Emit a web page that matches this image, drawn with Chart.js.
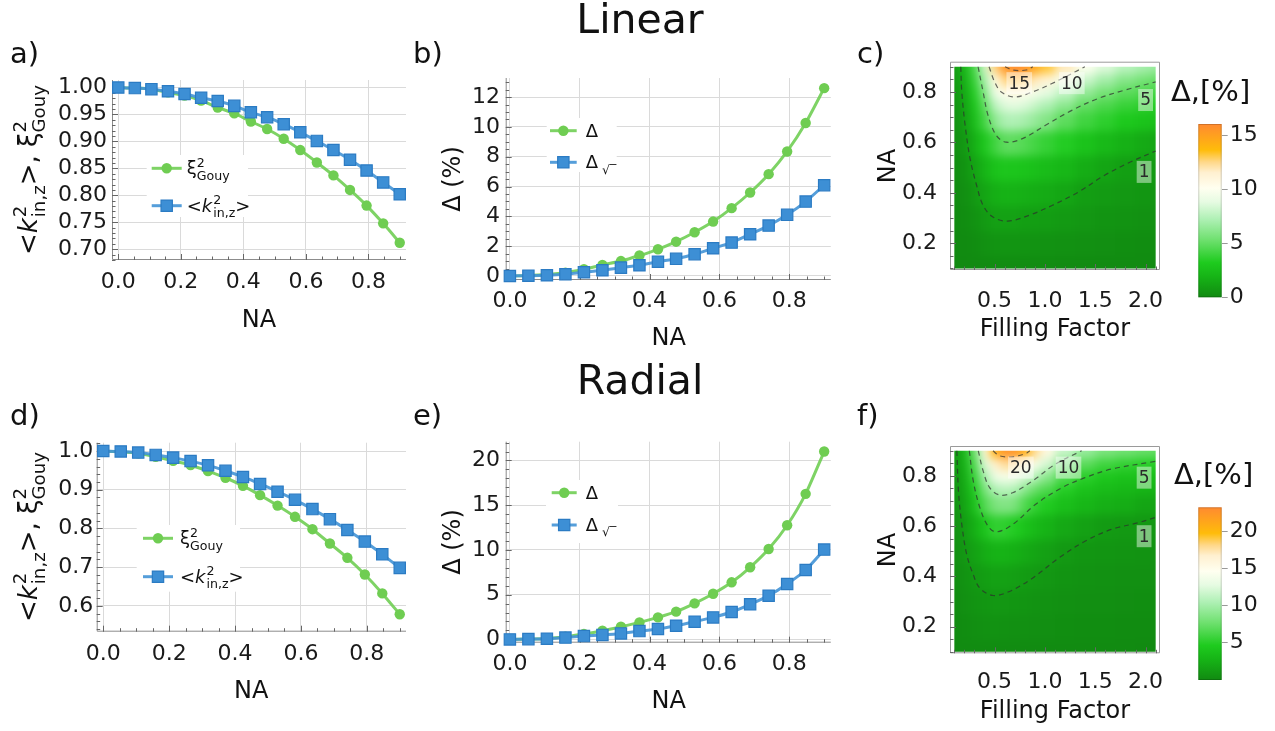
<!DOCTYPE html>
<html>
<head>
<meta charset="utf-8">
<title>Gouy factor and Δ vs NA</title>
<script src="https://cdn.jsdelivr.net/npm/chart.js@4.4.1/dist/chart.umd.min.js"></script>
<style>
  html, body { margin: 0; padding: 0; background: #fff; }
  body { position: relative; width: 1275px; height: 731px; overflow: hidden; }
  canvas { position: absolute; }
</style>
</head>
<body>
<canvas id="chartA" width="420" height="320" style="left:0px;top:30px"></canvas>
<canvas id="chartB" width="435" height="360" style="left:405px;top:0px"></canvas>
<canvas id="chartC" width="330" height="320" style="left:850px;top:30px"></canvas>
<canvas id="barC" width="110" height="260" style="left:1165px;top:60px"></canvas>
<canvas id="chartD" width="420" height="330" style="left:0px;top:390px"></canvas>
<canvas id="chartE" width="435" height="371" style="left:405px;top:360px"></canvas>
<canvas id="chartF" width="330" height="341" style="left:850px;top:390px"></canvas>
<canvas id="barF" width="110" height="280" style="left:1165px;top:440px"></canvas>
<script>
const FONT = "'DejaVu Sans', sans-serif";
const TICK_FONT = { family: FONT, size: 22 };
Chart.defaults.font.family = FONT;
Chart.defaults.font.size = 22;
Chart.defaults.color = "#1a1a1a";

// ---- line panels: values vs NA ----
const naVals = [0, 0.053, 0.106, 0.159, 0.212, 0.265, 0.318, 0.371, 0.424, 0.476, 0.529, 0.582, 0.635, 0.688, 0.741, 0.794, 0.847, 0.9];

// linear polarisation
const gouyLin = [1.0, 0.999, 0.997, 0.991, 0.985, 0.976, 0.963, 0.952, 0.937, 0.923, 0.905, 0.884, 0.861, 0.837, 0.810, 0.781, 0.748, 0.712];
const kzLin = [1.0, 0.999, 0.997, 0.993, 0.988, 0.981, 0.975, 0.966, 0.954, 0.945, 0.932, 0.917, 0.901, 0.884, 0.866, 0.846, 0.824, 0.802];
const deltaLin = [0, 0.03, 0.1, 0.22, 0.45, 0.74, 1.0, 1.37, 1.79, 2.3, 2.93, 3.65, 4.55, 5.6, 6.83, 8.35, 10.26, 12.6];
const deltaSqrtLin = [0, 0.02, 0.05, 0.12, 0.25, 0.38, 0.56, 0.72, 0.96, 1.15, 1.46, 1.86, 2.24, 2.8, 3.38, 4.1, 4.99, 6.09];

// radial polarisation
const gouyRad = [1.0, 0.998, 0.994, 0.985, 0.975, 0.964, 0.948, 0.931, 0.910, 0.886, 0.859, 0.830, 0.798, 0.761, 0.724, 0.681, 0.632, 0.578];
const kzRad = [1.0, 0.999, 0.996, 0.99, 0.983, 0.974, 0.963, 0.949, 0.933, 0.915, 0.895, 0.874, 0.85, 0.824, 0.796, 0.766, 0.733, 0.698];
const deltaRad = [0, 0.04, 0.11, 0.3, 0.6, 0.97, 1.42, 1.9, 2.46, 3.1, 4.03, 5.1, 6.38, 8.06, 10.1, 12.76, 16.27, 21.0];
const deltaSqrtRad = [0, 0.03, 0.08, 0.2, 0.37, 0.5, 0.67, 0.93, 1.16, 1.53, 1.98, 2.46, 3.06, 3.92, 4.89, 6.19, 7.76, 10.04];

// ---- density panels: Δ (%) over filling factor × NA ----
const ffCols = [0.1, 0.2, 0.3, 0.4, 0.5, 0.6, 0.7, 0.8, 0.9, 1.0, 1.2, 1.4, 1.6, 1.8, 2.0, 2.1];
const naRows = [0.1, 0.2, 0.3, 0.4, 0.5, 0.6, 0.7, 0.75, 0.8, 0.85, 0.9];

// one list per filling factor, values along naRows
const mapLin = [
  [0.0, 0.02, 0.05, 0.1, 0.15, 0.22, 0.32, 0.4, 0.5, 0.6, 0.75],
  [0.0, 0.05, 0.12, 0.25, 0.4, 0.65, 1.0, 1.2, 1.45, 1.75, 2.1],
  [0.02, 0.12, 0.35, 0.7, 1.15, 1.75, 2.5, 2.95, 3.4, 3.9, 4.4],
  [0.05, 0.3, 0.75, 1.3, 2.0, 3.0, 4.2, 4.9, 5.9, 7.0, 8.2],
  [0.08, 0.45, 1.0, 1.7, 2.7, 4.1, 6.2, 7.6, 9.1, 10.5, 12.5],
  [0.1, 0.5, 1.05, 1.9, 3.0, 4.9, 7.2, 8.6, 10.2, 12.5, 15.4],
  [0.1, 0.5, 1.05, 1.85, 2.95, 4.85, 7.3, 8.8, 10.6, 12.9, 16.0],
  [0.1, 0.45, 0.95, 1.75, 2.8, 4.6, 7.0, 8.5, 10.3, 12.6, 15.6],
  [0.08, 0.42, 0.9, 1.6, 2.6, 4.2, 6.5, 7.9, 9.6, 11.8, 14.6],
  [0.07, 0.38, 0.85, 1.5, 2.4, 3.8, 5.9, 7.2, 8.8, 11.2, 13.2],
  [0.06, 0.33, 0.72, 1.3, 2.1, 3.35, 4.85, 6.2, 7.8, 9.6, 11.8],
  [0.05, 0.28, 0.6, 0.9, 1.6, 2.75, 4.1, 5.0, 6.4, 8.0, 10.0],
  [0.04, 0.22, 0.48, 0.8, 1.25, 2.2, 3.6, 4.4, 5.5, 6.9, 8.6],
  [0.03, 0.18, 0.4, 0.65, 0.95, 1.8, 3.1, 3.9, 4.8, 6.0, 7.6],
  [0.03, 0.15, 0.34, 0.55, 0.8, 1.45, 2.8, 3.6, 4.45, 5.5, 7.0],
  [0.02, 0.14, 0.32, 0.5, 0.72, 1.3, 2.6, 3.4, 4.2, 5.1, 6.6]
];
const mapRad = [
  [0.02, 0.06, 0.12, 0.2, 0.3, 0.42, 0.55, 0.62, 0.7, 0.78, 0.85],
  [0.05, 0.2, 0.4, 0.62, 0.9, 1.25, 1.75, 2.05, 2.35, 2.7, 3.1],
  [0.1, 0.35, 0.65, 1.0, 1.6, 2.5, 3.9, 4.75, 5.6, 6.5, 7.6],
  [0.12, 0.45, 0.82, 1.35, 2.3, 4.1, 6.6, 8.2, 10.0, 12.3, 15.0],
  [0.13, 0.5, 0.9, 1.6, 2.75, 5.4, 8.2, 10.5, 13.2, 16.5, 20.3],
  [0.12, 0.48, 0.88, 1.55, 2.7, 5.25, 8.6, 11.0, 14.0, 17.8, 22.5],
  [0.1, 0.42, 0.8, 1.4, 2.5, 4.8, 8.2, 10.6, 13.7, 17.6, 22.5],
  [0.09, 0.38, 0.7, 1.2, 2.15, 4.0, 6.5, 9.0, 12.0, 15.8, 20.5],
  [0.08, 0.33, 0.6, 1.0, 1.8, 3.3, 5.4, 7.5, 11.0, 14.2, 18.0],
  [0.07, 0.3, 0.52, 0.85, 1.45, 2.75, 4.7, 6.5, 8.9, 12.0, 15.5],
  [0.06, 0.25, 0.42, 0.68, 0.98, 2.0, 3.7, 4.9, 6.6, 8.8, 11.5],
  [0.05, 0.21, 0.36, 0.56, 0.82, 1.55, 3.0, 3.95, 5.1, 6.9, 9.5],
  [0.04, 0.18, 0.31, 0.48, 0.7, 1.15, 2.55, 3.4, 4.3, 5.9, 8.3],
  [0.04, 0.16, 0.28, 0.43, 0.63, 1.0, 2.3, 3.1, 3.95, 5.4, 7.8],
  [0.03, 0.14, 0.25, 0.39, 0.57, 0.9, 1.8, 2.85, 3.7, 5.0, 7.4],
  [0.03, 0.13, 0.24, 0.37, 0.54, 0.85, 1.7, 2.7, 3.55, 4.85, 7.2]
];
const linMax = 16.05;
const radMax = 23.2;

// contour lines, [filling factor, NA]
const linC1 = [[0.164, 0.9], [0.174, 0.80], [0.207, 0.669], [0.256, 0.536], [0.321, 0.43], [0.386, 0.35], [0.484, 0.304], [0.63, 0.288], [0.843, 0.311], [1.071, 0.35], [1.332, 0.403], [1.593, 0.47], [1.854, 0.523], [2.1, 0.566]];
const linC5 = [[0.336, 0.9], [0.386, 0.80], [0.435, 0.707], [0.516, 0.628], [0.614, 0.601], [0.777, 0.615], [1.006, 0.668], [1.267, 0.727], [1.528, 0.774], [1.789, 0.807], [2.1, 0.84]];
const linC10 = [[0.445, 0.9], [0.5, 0.84], [0.566, 0.80], [0.696, 0.78], [0.875, 0.80], [1.104, 0.84], [1.397, 0.9]];
const linC15 = [[0.603, 0.9], [0.684, 0.887], [0.815, 0.887], [0.88, 0.9]];
const radC1 = [[0.125, 0.9], [0.141, 0.74], [0.174, 0.607], [0.223, 0.487], [0.288, 0.407], [0.354, 0.353], [0.484, 0.324], [0.647, 0.34], [0.876, 0.393], [1.137, 0.473], [1.398, 0.54], [1.659, 0.587], [1.92, 0.613], [2.1, 0.635]];
const radC5 = [[0.249, 0.9], [0.288, 0.78], [0.354, 0.673], [0.435, 0.6], [0.516, 0.577], [0.68, 0.607], [0.908, 0.687], [1.169, 0.753], [1.398, 0.793], [1.659, 0.827], [2.1, 0.858]];
const radC10 = [[0.338, 0.9], [0.386, 0.82], [0.451, 0.753], [0.549, 0.724], [0.68, 0.733], [0.876, 0.78], [1.104, 0.847], [1.365, 0.9]];
const radC20 = [[0.484, 0.9], [0.549, 0.88], [0.68, 0.876], [0.81, 0.889], [0.85, 0.9]];

// contour labels: text, filling factor, NA
const linLabels = [["15", 0.745, 0.835], ["10", 1.267, 0.835], ["5", 2.0, 0.768], ["1", 1.985, 0.483]];
const radLabels = [["20", 0.761, 0.833], ["10", 1.234, 0.833], ["5", 1.985, 0.793], ["1", 1.985, 0.56]];

// ---- styles ----
const greenSt = { line: "rgba(112,206,84,0.9)", fill: "#6fcd52", border: "#6fcd52", style: "circle", r: 5.2, bw: 0 };
const blueSt = { line: "rgba(66,148,214,0.9)", fill: "#3d8fd5", border: "#2b7bc3", style: "rect", r: 8, bw: 1.2 };
const cmap = [[0, "#118a11"], [0.12, "#16b416"], [0.2, "#1ecb1e"], [0.33, "#6ee06e"], [0.45, "#aef0b4"], [0.55, "#e6fbe2"],
  [0.63, "#fffff0"], [0.72, "#fff0d0"], [0.78, "#ffd88a"], [0.85, "#ffbc0a"], [1, "#ff8a30"]];

function hexRgb(h) { return [1, 3, 5].map(i => parseInt(h.slice(i, i + 2), 16)); }
function colorAt(t) {
  t = Math.max(0, Math.min(1, t));
  for (let i = 1; i < cmap.length; i++) {
    if (t <= cmap[i][0]) {
      const a = hexRgb(cmap[i - 1][1]), b = hexRgb(cmap[i][1]);
      const f = (t - cmap[i - 1][0]) / (cmap[i][0] - cmap[i - 1][0]);
      return "rgb(" + a.map((v, k) => Math.round(v + (b[k] - v) * f)).join(",") + ")";
    }
  }
  return cmap[cmap.length - 1][1];
}

// text with stacked super/subscripts, drawn at the current origin (baseline)
function drawRich(ctx, segs, size, align) {
  const sm = size * 0.7;
  const parts = segs.map(s => typeof s === "string" ? { t: s } : Object.assign({}, s));
  let w = 0;
  parts.forEach(p => {
    ctx.font = (p.it ? "italic " : "") + size + "px " + FONT;
    p.w = ctx.measureText(p.t).width + (p.it ? 1 : 0);
    ctx.font = sm + "px " + FONT;
    p.ws = Math.max(p.sup ? ctx.measureText(p.sup).width : 0, p.sub ? ctx.measureText(p.sub).width : 0);
    w += p.w + p.ws;
  });
  let x = align === "center" ? -w / 2 : 0;
  ctx.textAlign = "left";
  ctx.textBaseline = "alphabetic";
  parts.forEach(p => {
    ctx.font = (p.it ? "italic " : "") + size + "px " + FONT;
    ctx.fillText(p.t, x, 0);
    x += p.w;
    ctx.font = sm + "px " + FONT;
    if (p.sup) ctx.fillText(p.sup, x, -size * 0.42);
    if (p.sub) ctx.fillText(p.sub, x, size * 0.3);
    x += p.ws;
  });
}

// free text in page coordinates
const pageText = {
  id: "pageText",
  afterDraw(chart, args, o) {
    const ctx = chart.ctx;
    o.items.forEach(it => {
      ctx.save();
      ctx.fillStyle = "#111";
      ctx.translate(it.x - o.ox, it.y - o.oy);
      if (it.rot) ctx.rotate(-Math.PI / 2);
      drawRich(ctx, it.segs, it.size, it.align || "left");
      ctx.restore();
    });
  }
};

function drawMarker(ctx, st, x, y) {
  ctx.fillStyle = st.fill;
  ctx.strokeStyle = st.border;
  ctx.lineWidth = st.bw;
  ctx.beginPath();
  if (st.style === "circle") ctx.arc(x, y, st.r, 0, Math.PI * 2);
  else { const s = st.r * Math.SQRT1_2; ctx.rect(x - s, y - s, 2 * s, 2 * s); }
  ctx.fill();
  if (st.bw) ctx.stroke();
}

const legendBox = {
  id: "legendBox",
  afterDatasetsDraw(chart, args, o) {
    const ctx = chart.ctx;
    ctx.save();
    ctx.translate(-o.ox, -o.oy);
    const [x1, y1, x2, y2] = o.box;
    ctx.fillStyle = "#fff";
    ctx.fillRect(x1, y1, x2 - x1, y2 - y1);
    o.items.forEach(it => {
      ctx.strokeStyle = it.st.line;
      ctx.lineWidth = 3;
      ctx.beginPath();
      ctx.moveTo(o.lx[0], it.y);
      ctx.lineTo(o.lx[1], it.y);
      ctx.stroke();
      drawMarker(ctx, it.st, (o.lx[0] + o.lx[1]) / 2, it.y);
      ctx.save();
      ctx.fillStyle = "#111";
      ctx.translate(o.tx, it.y + 6);
      drawRich(ctx, it.segs, 18, "left");
      ctx.restore();
    });
    ctx.restore();
  }
};

function eachTick(min, max, step, major, fn) {
  for (let k = Math.ceil(min / step - 1e-9); k * step <= max + 1e-9; k++) {
    const v = k * step;
    fn(v, Math.abs(v / major - Math.round(v / major)) < 1e-6);
  }
}
function drawFrame(chart, o) {
  const { ctx, chartArea: a, scales: { x, y } } = chart;
  ctx.save();
  ctx.strokeStyle = o.color;
  ctx.lineWidth = 1;
  ctx.beginPath();
  if (o.box) ctx.rect(a.left + 0.5, a.top + 0.5, a.width - 1, a.height - 1);
  else {
    ctx.moveTo(a.left + 0.5, a.top);
    ctx.lineTo(a.left + 0.5, a.bottom - 0.5);
    ctx.lineTo(a.right, a.bottom - 0.5);
  }
  ctx.stroke();
  ctx.strokeStyle = "#666";
  ctx.beginPath();
  eachTick(x.min, x.max, o.xMinor, o.xMajor, (v, big) => {
    const p = Math.round(x.getPixelForValue(v)) + 0.5;
    ctx.moveTo(p, a.bottom);
    ctx.lineTo(p, a.bottom - (big ? 6 : 3.5));
  });
  eachTick(y.min, y.max, o.yMinor, o.yMajor, (v, big) => {
    const p = Math.round(y.getPixelForValue(v)) + 0.5;
    ctx.moveTo(a.left, p);
    ctx.lineTo(a.left + (big ? 6 : 3.5), p);
  });
  ctx.stroke();
  ctx.restore();
}
const frame = {
  id: "frame",
  beforeDatasetsDraw(chart, args, o) { if (!o.onTop) drawFrame(chart, o); },
  afterDatasetsDraw(chart, args, o) { if (o.onTop) drawFrame(chart, o); }
};

// density map: cells from the sampled grid, softened with a blur
const heatmap = {
  id: "heatmap",
  beforeDatasetsDraw(chart, args, o) {
    const { ctx, scales: { x, y } } = chart;
    const n = o.cols.length, m = o.rows.length;
    const xe = [], ye = [];
    for (let i = 0; i <= n; i++) {
      xe.push(i === 0 ? x.getPixelForValue(o.cols[0]) - 20
        : i === n ? x.getPixelForValue(o.cols[n - 1]) + 20
        : x.getPixelForValue((o.cols[i - 1] + o.cols[i]) / 2));
    }
    for (let j = 0; j <= m; j++) {
      ye.push(j === 0 ? y.getPixelForValue(o.rows[0]) + 20
        : j === m ? y.getPixelForValue(o.rows[m - 1]) - 20
        : y.getPixelForValue((o.rows[j - 1] + o.rows[j]) / 2));
    }
    const off = document.createElement("canvas");
    off.width = chart.width;
    off.height = chart.height;
    const oc = off.getContext("2d");
    for (let i = 0; i < n; i++) {
      for (let j = 0; j < m; j++) {
        oc.fillStyle = colorAt(o.values[i][j] / o.vmax);
        oc.fillRect(xe[i], ye[j + 1], xe[i + 1] - xe[i] + 1, ye[j] - ye[j + 1] + 1);
      }
    }
    const L = x.getPixelForValue(o.cols[0]), R = x.getPixelForValue(o.cols[n - 1]);
    const T = y.getPixelForValue(o.rows[m - 1]), B = y.getPixelForValue(o.rows[0]);
    ctx.save();
    ctx.beginPath();
    ctx.rect(L, T, R - L, B - T);
    ctx.clip();
    ctx.filter = "blur(5px)";
    ctx.drawImage(off, 0, 0);
    ctx.restore();
  }
};

const contourLabels = {
  id: "contourLabels",
  afterDatasetsDraw(chart, args, o) {
    const { ctx, scales: { x, y } } = chart;
    ctx.save();
    ctx.font = "17px " + FONT;
    ctx.textAlign = "center";
    ctx.textBaseline = "middle";
    o.labels.forEach(([t, fx, fy]) => {
      const px = x.getPixelForValue(fx), py = y.getPixelForValue(fy);
      const w = ctx.measureText(t).width + 4;
      ctx.fillStyle = "rgba(255,255,255,0.45)";
      ctx.fillRect(px - w / 2, py - 11, w, 22);
      ctx.fillStyle = "#2a2a2a";
      ctx.fillText(t, px, py + 1);
    });
    ctx.restore();
  }
};

const barFill = {
  id: "barFill",
  beforeDraw(chart, args, o) {
    const { ctx, chartArea: a, scales: { y } } = chart;
    const g = ctx.createLinearGradient(0, y.getPixelForValue(0), 0, y.getPixelForValue(o.vmax));
    cmap.forEach(s => g.addColorStop(s[0], s[1]));
    ctx.save();
    ctx.fillStyle = g;
    ctx.fillRect(a.left, a.top, a.width, a.height);
    ctx.strokeStyle = "rgba(0,0,0,0.18)";
    ctx.strokeRect(a.left + 0.5, a.top + 0.5, a.width - 1, a.height - 1);
    ctx.restore();
  }
};

function series(xs, ys, st, order) {
  return {
    data: xs.map((x, i) => ({ x, y: ys[i] })),
    showLine: true, borderColor: st.line, borderWidth: 3, tension: 0.2,
    pointStyle: st.style, pointRadius: st.r, pointHoverRadius: st.r,
    pointBackgroundColor: st.fill, pointBorderColor: st.border, pointBorderWidth: st.bw,
    order, clip: 12
  };
}

function lineChart(id, o) {
  return new Chart(document.getElementById(id), {
    type: "scatter",
    data: { datasets: [series(naVals, o.green, greenSt, 2), series(naVals, o.blue, blueSt, 1)] },
    options: {
      responsive: false, animation: false, events: [],
      layout: { padding: { left: 0, top: o.padTop, right: o.padRight, bottom: 0 } },
      plugins: {
        legend: { display: false }, tooltip: { enabled: false },
        frame: { box: false, color: "#8c8c8c", xMinor: 0.05, xMajor: 0.2, yMinor: o.yMinor, yMajor: o.yStep },
        pageText: { ox: o.ox, oy: o.oy, items: o.texts },
        legendBox: Object.assign({ ox: o.ox, oy: o.oy }, o.legend)
      },
      scales: {
        x: {
          type: "linear", min: o.xMin, max: o.xMax,
          afterFit: s => { s.height = o.xH; },
          grid: { color: "#dadada", drawTicks: false }, border: { display: false },
          ticks: { font: TICK_FONT, color: "#1a1a1a", stepSize: 0.2, includeBounds: false, padding: o.xPad, maxRotation: 0, autoSkip: false, callback: v => v.toFixed(1) }
        },
        y: {
          type: "linear", min: o.yMin, max: o.yMax,
          afterFit: s => { s.width = o.yW; },
          grid: { color: "#dadada", drawTicks: false }, border: { display: false },
          ticks: { font: TICK_FONT, color: "#1a1a1a", stepSize: o.yStep, includeBounds: false, padding: o.yPad, autoSkip: false, callback: v => o.yFmt(v) }
        }
      }
    },
    plugins: [frame, legendBox, pageText]
  });
}

function mapChart(id, o) {
  const dash = c => ({
    data: c.map(p => ({ x: p[0], y: p[1] })), showLine: true, pointRadius: 0,
    borderColor: "rgba(45,45,45,0.7)", borderWidth: 1.2, borderDash: [5, 4], tension: 0.35
  });
  return new Chart(document.getElementById(id), {
    type: "scatter",
    data: { datasets: o.contours.map(dash) },
    options: {
      responsive: false, animation: false, events: [],
      layout: { padding: { left: 0, top: o.padTop, right: 20, bottom: 0 } },
      plugins: {
        legend: { display: false }, tooltip: { enabled: false },
        heatmap: { cols: ffCols, rows: naRows, values: o.values, vmax: o.vmax },
        frame: { box: true, onTop: true, color: "#9a9a9a", xMinor: 0.1, xMajor: 0.5, yMinor: 0.05, yMajor: 0.2 },
        contourLabels: { labels: o.labels },
        pageText: { ox: o.ox, oy: o.oy, items: o.texts }
      },
      scales: {
        x: {
          type: "linear", min: 0.057, max: 2.143,
          afterFit: s => { s.height = o.xH; },
          grid: { display: false }, border: { display: false },
          ticks: { font: TICK_FONT, color: "#1a1a1a", stepSize: 0.5, includeBounds: false, padding: o.xPad, maxRotation: 0, callback: v => v.toFixed(1) }
        },
        y: {
          type: "linear", min: o.yMin, max: o.yMax,
          afterFit: s => { s.width = 100; },
          grid: { display: false }, border: { display: false },
          ticks: { font: TICK_FONT, color: "#1a1a1a", stepSize: 0.2, includeBounds: false, padding: 5, callback: v => v.toFixed(1) }
        }
      }
    },
    plugins: [heatmap, frame, contourLabels, pageText]
  });
}

function colorBar(id, o) {
  return new Chart(document.getElementById(id), {
    type: "scatter",
    data: { datasets: [] },
    options: {
      responsive: false, animation: false, events: [],
      layout: { padding: { left: 33.3, top: o.padTop, right: 0, bottom: o.padBottom } },
      plugins: {
        legend: { display: false }, tooltip: { enabled: false },
        barFill: { vmax: o.vmax },
        pageText: { ox: 1165, oy: o.oy, items: o.texts }
      },
      scales: {
        x: { display: false, min: 0, max: 1 },
        y: {
          position: "right", min: o.min, max: o.vmax,
          afterFit: s => { s.width = 53.3; },
          grid: { drawOnChartArea: false, drawTicks: true, tickLength: 6, tickColor: "#999" },
          border: { display: false },
          ticks: { font: TICK_FONT, color: "#1a1a1a", stepSize: 5, includeBounds: false, padding: 2 }
        }
      }
    },
    plugins: [barFill, pageText]
  });
}

const kzSegs = ["<", { t: "k", it: true, sup: "2", sub: "in,z" }, ">"];
const gouySegs = [{ t: "ξ", sup: "2", sub: "Gouy" }];
const yTitle = ["<", { t: "k", it: true, sup: "2", sub: "in,z" }, ">, ", { t: "ξ", sup: "2", sub: "Gouy" }];

// ---- a) ----
lineChart("chartA", {
  ox: 0, oy: 30, green: gouyLin, blue: kzLin,
  padTop: 50, padRight: 14, xH: 90, yW: 112, xPad: 9, yPad: 5,
  xMin: -0.02, xMax: 0.92, yMin: 0.68, yMax: 1.014, yStep: 0.05, yMinor: 0.01, yFmt: v => v.toFixed(2),
  legend: { box: [146.7, 155, 248, 217], lx: [151.7, 181.7], tx: 186.7,
    items: [{ y: 168.3, st: greenSt, segs: gouySegs }, { y: 205.7, st: blueSt, segs: kzSegs }] },
  texts: [
    { x: 10, y: 62.7, size: 29, segs: ["a)"] },
    { x: 259, y: 326.7, size: 24, align: "center", segs: ["NA"] },
    { x: 37, y: 170, size: 26, align: "center", rot: true, segs: yTitle }
  ]
});

// ---- b) ----
lineChart("chartB", {
  ox: 405, oy: 0, green: deltaLin, blue: deltaSqrtLin,
  padTop: 78, padRight: 8.3, xH: 80, yW: 100.7, xPad: 8, yPad: 5.7,
  xMin: -0.012, xMax: 0.919, yMin: -0.27, yMax: 13.28, yStep: 2, yMinor: 0.5, yFmt: v => String(v),
  legend: { box: [546.7, 118, 616.7, 172], lx: [550, 576.7], tx: 585.7,
    items: [{ y: 130.7, st: greenSt, segs: ["Δ"] }, { y: 162.3, st: blueSt, segs: [{ t: "Δ", sub: " √‾" }] }] },
  texts: [
    { x: 640, y: 33, size: 41, align: "center", segs: ["Linear"] },
    { x: 413, y: 62.7, size: 29, segs: ["b)"] },
    { x: 668.7, y: 345, size: 24, align: "center", segs: ["NA"] },
    { x: 460, y: 179, size: 24, align: "center", rot: true, segs: ["Δ (%)"] }
  ]
});

// ---- c) ----
mapChart("chartC", {
  ox: 850, oy: 30, values: mapLin, vmax: linMax,
  contours: [linC1, linC5, linC10, linC15], labels: linLabels,
  padTop: 31.7, xH: 80, xPad: 10, yMin: 0.094, yMax: 0.92,
  texts: [
    { x: 857, y: 62.7, size: 29, segs: ["c)"] },
    { x: 1055, y: 336, size: 24, align: "center", segs: ["Filling Factor"] },
    { x: 895, y: 166, size: 24, align: "center", rot: true, segs: ["NA"] }
  ]
});
colorBar("barC", {
  oy: 60, padTop: 64, padBottom: 22.7, min: 0, vmax: linMax,
  texts: [{ x: 1171, y: 101, size: 29, segs: ["Δ,[%]"] }]
});

// ---- d) ----
lineChart("chartD", {
  ox: 0, oy: 390, green: gouyRad, blue: kzRad,
  padTop: 52.7, padRight: 14, xH: 88.3, yW: 96.7, xPad: 9, yPad: 3.4,
  xMin: -0.02, xMax: 0.919, yMin: 0.533, yMax: 1.0216, yStep: 0.1, yMinor: 0.02, yFmt: v => v.toFixed(1),
  legend: { box: [136.7, 525, 240, 591.7], lx: [143, 173], tx: 180,
    items: [{ y: 538.3, st: greenSt, segs: gouySegs }, { y: 576.7, st: blueSt, segs: kzSegs }] },
  texts: [
    { x: 10, y: 425, size: 29, segs: ["d)"] },
    { x: 251.3, y: 698, size: 24, align: "center", segs: ["NA"] },
    { x: 37, y: 537, size: 26, align: "center", rot: true, segs: yTitle }
  ]
});

// ---- e) ----
lineChart("chartE", {
  ox: 405, oy: 360, green: deltaRad, blue: deltaSqrtRad,
  padTop: 81.7, padRight: 8.3, xH: 88.3, yW: 100.7, xPad: 8, yPad: 5.7,
  xMin: -0.012, xMax: 0.919, yMin: -0.37, yMax: 22.1, yStep: 5, yMinor: 1, yFmt: v => String(v),
  legend: { box: [546, 480, 618, 543], lx: [551.7, 576.7], tx: 585.7,
    items: [{ y: 492.7, st: greenSt, segs: ["Δ"] }, { y: 525, st: blueSt, segs: [{ t: "Δ", sub: " √‾" }] }] },
  texts: [
    { x: 640, y: 394, size: 41, align: "center", segs: ["Radial"] },
    { x: 413, y: 425, size: 29, segs: ["e)"] },
    { x: 668.7, y: 708, size: 24, align: "center", segs: ["NA"] },
    { x: 460, y: 542, size: 24, align: "center", rot: true, segs: ["Δ (%)"] }
  ]
});

// ---- f) ----
mapChart("chartF", {
  ox: 850, oy: 390, values: mapRad, vmax: radMax,
  contours: [radC1, radC5, radC10, radC20], labels: radLabels,
  padTop: 56, xH: 77.7, xPad: 7.5, yMin: 0.094, yMax: 0.919,
  texts: [
    { x: 857, y: 425, size: 29, segs: ["f)"] },
    { x: 1055, y: 718, size: 24, align: "center", segs: ["Filling Factor"] },
    { x: 895, y: 550, size: 24, align: "center", rot: true, segs: ["NA"] }
  ]
});
colorBar("barF", {
  oy: 440, padTop: 67.3, padBottom: 40, min: 0.0001, vmax: radMax,
  texts: [{ x: 1174, y: 484, size: 29, segs: ["Δ,[%]"] }]
});
</script>
</body>
</html>
